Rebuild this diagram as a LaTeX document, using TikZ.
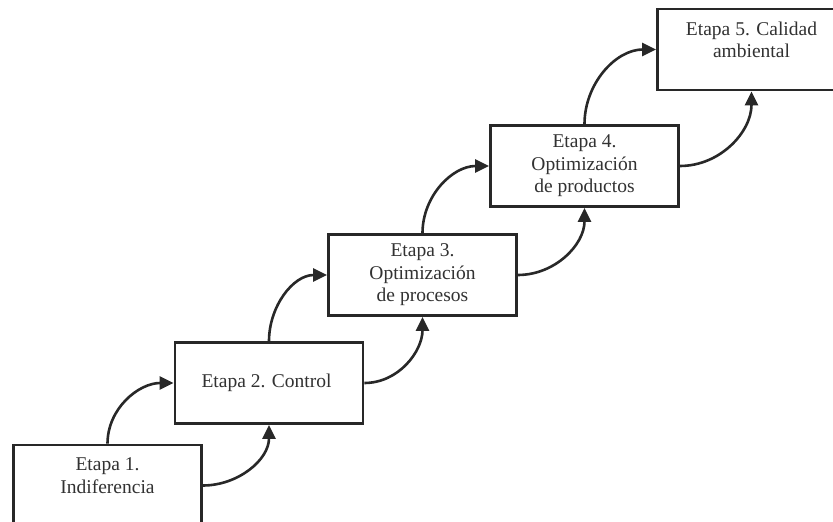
\documentclass[tikz,border=0pt]{standalone}
\usepackage{fontspec}
\setmainfont{Liberation Serif}
\usepackage{xcolor}
\definecolor{BoxLine}{RGB}{40,40,40}
\definecolor{StageText}{RGB}{50,50,50}
\usepackage{tikz}
\usetikzlibrary{
    arrows.meta,
    positioning
}
\tikzset{
    stage/.style={
        draw=BoxLine,
        line width=2.8pt,
        fill=white,
        text=StageText,
        align=center,
        minimum width=188pt,
        minimum height=81pt,
        inner sep=0pt,
        font=\fontsize{19.5}{22.5}\selectfont
    },
    stagehigh/.style={
        stage,
        text depth=20pt
    },
    stageflow/.style={
        draw=BoxLine,
        line width=2.6pt,
        -{Triangle[length=14pt,width=13pt]}
    }
}

\begin{document}
\begin{tikzpicture}[x=1pt,y=1pt]
%
    \clip
    (0,0)
    rectangle
    (833,522);
%
    % the five stages, climbing to the right
%
    \node[
        stagehigh
    ]
    (etapa1) at (107.5,36.5) {
        Etapa 1.\\Indiferencia
    };
%
    \node[
        stage
    ]
    (etapa2) at (269,139) {
        Etapa 2. Control
    };
%
    \node[
        stage
    ]
    (etapa3) at (422.5,247) {
        Etapa 3.\\Optimización\\de procesos
    };
%
    \node[
        stage
    ]
    (etapa4) at (584.5,356) {
        Etapa 4.\\Optimización\\de productos
    };
%
    \node[
        stagehigh
    ]
    (etapa5) at (751.5,472.5) {
        Etapa 5. Calidad\\ambiental
    };
%
    % from the top of a stage to the side of the next one
%
    \draw[
        stageflow
    ]
    (etapa1.north)
    to[out=90,in=180]
    (etapa2.west);
%
    \draw[
        stageflow
    ]
    (etapa2.north)
    to[out=90,in=180]
    (etapa3.west);
%
    \draw[
        stageflow
    ]
    (etapa3.north)
    to[out=90,in=180]
    (etapa4.west);
%
    \draw[
        stageflow
    ]
    (etapa4.north)
    to[out=90,in=180]
    (etapa5.west);
%
    % from the side of a stage to the bottom of the next one
%
    \draw[
        stageflow
    ]
    (etapa1.east)
    to[out=0,in=-90]
    (etapa2.south);
%
    \draw[
        stageflow
    ]
    (etapa2.east)
    to[out=0,in=-90]
    (etapa3.south);
%
    \draw[
        stageflow
    ]
    (etapa3.east)
    to[out=0,in=-90]
    (etapa4.south);
%
    \draw[
        stageflow
    ]
    (etapa4.east)
    to[out=0,in=-90]
    (etapa5.south);
%
\end{tikzpicture}
\end{document}
